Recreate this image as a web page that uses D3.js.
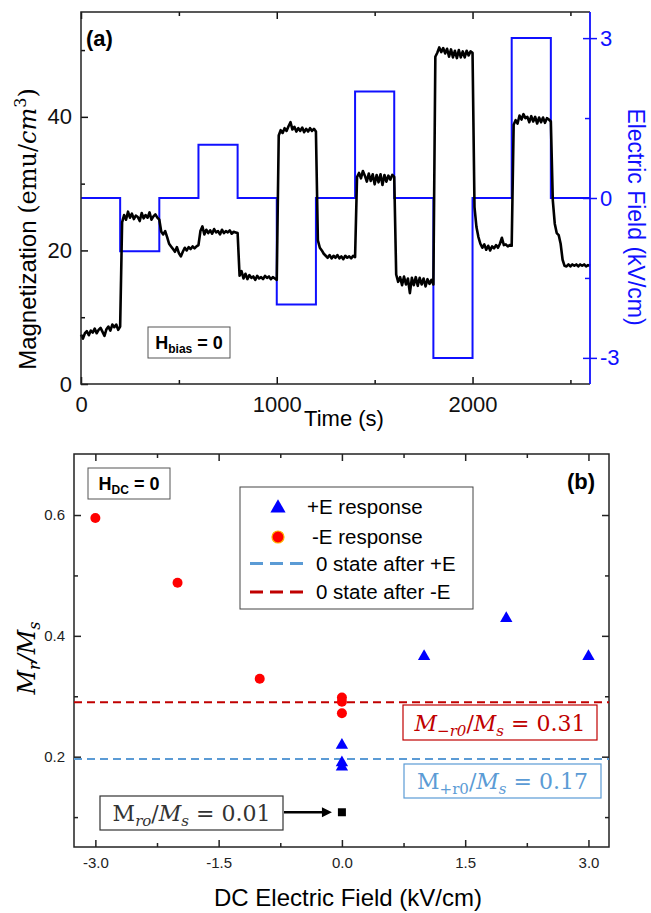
<!DOCTYPE html>
<html>
<head>
<meta charset="utf-8">
<script src="https://cdn.jsdelivr.net/npm/d3@7"></script>
<style>
  body { margin: 0; background: #fff; }
  svg { display: block; }
</style>
</head>
<body>
<script>
// ---- panel (a): magnetization trace, one reading every 10 s (emu/cm^3)
let magnetization = [
  7.4, 6.8, 7.6, 7.9, 7.3, 8.0, 7.7, 8.3, 7.6, 8.1, 8.4, 7.8, 7.2, 8.2, 8.6, 8.0, 8.9, 8.5, 8.9, 8.1,
  8.6, 24.2, 25.3, 24.6, 25.8, 24.9, 25.5, 24.7, 25.2, 25.0, 24.4, 25.6, 24.8, 25.3, 24.9, 25.7, 24.6, 25.1, 25.4, 24.9,
  24.6, 22.8, 22.4, 22.9, 22.0, 21.0, 20.6, 20.2, 19.8, 20.5, 19.6, 19.1, 19.8, 20.4, 20.0, 20.5, 20.2, 20.6, 20.3, 20.6,
  20.8, 22.9, 23.6, 22.4, 23.1, 22.6, 23.0, 22.5, 23.2, 22.7, 22.9, 22.4, 23.1, 22.6, 22.9, 22.7, 23.0, 22.5, 22.8, 22.7,
  22.6, 16.2, 16.9, 15.8, 16.5, 15.7, 16.3, 15.9, 16.1, 15.6, 16.2, 15.8, 16.0, 15.7, 16.2, 15.9, 16.1, 15.7, 16.0, 15.8,
  15.6, 37.2, 38.0, 37.6, 38.3, 37.9, 38.6, 39.2, 38.1, 38.5, 37.8, 38.3, 37.9, 38.4, 37.7, 38.2, 37.8, 38.3, 37.9, 38.2,
  37.8, 21.5, 20.4, 20.0, 19.5, 19.2, 18.9, 19.3, 18.8, 19.2, 18.9, 19.3, 18.8, 19.1, 18.7, 19.2, 18.9, 19.1, 18.8, 19.2,
  19.0, 31.0, 31.6, 30.8, 31.9, 31.2, 30.3, 31.5, 30.4, 31.4, 29.9, 31.3, 30.2, 31.4, 29.8, 31.3, 30.3, 31.2, 30.6, 31.3,
  31.0, 16.4, 15.3, 16.0, 14.8, 16.1, 14.9, 15.8, 13.6, 15.9, 14.8, 16.0, 14.7, 15.9, 14.9, 15.8, 14.6, 15.7, 15.0, 15.6,
  14.9, 49.0, 49.6, 50.4, 49.7, 50.3, 49.5, 50.2, 49.0, 50.1, 48.9, 49.9, 48.8, 50.0, 48.9, 49.8, 48.9, 49.9, 49.2, 49.8,
  49.6, 26.5, 23.5, 22.0, 21.0, 20.4, 20.9, 20.1, 20.7, 20.0, 20.6, 20.3, 20.8, 20.4, 21.0, 21.9, 20.8, 20.9, 20.6, 20.8,
  20.7, 38.8, 39.5, 39.0, 40.2, 39.6, 40.4, 39.8, 40.0, 39.2, 40.1, 39.3, 40.0, 39.0, 39.9, 39.2, 39.9, 39.1, 39.8, 39.6,
  39.3, 27.5, 24.0, 22.6, 22.3, 21.0, 18.6, 17.7, 17.6, 17.9, 17.6, 17.9, 17.7, 17.9, 17.6, 17.9, 17.7, 17.9, 17.6, 17.8,
  17.7
];
let sampleTimes = d3.range(0, 2601, 10);

// applied field, value held from each switch time to the next (kV/cm)
let switchTimes = [0, 200, 400, 600, 800, 1000, 1200, 1400, 1600, 1800, 2000, 2200, 2400, 2600];
let fieldValues = [0, -1, 0, 1, 0, -2, 0, 2, 0, -3, 0, 3, 0, 0];

let timeTicks = [0, 1000, 2000];
let timeMinor = [500, 1500, 2500];
let magTicks = [0, 20, 40];
let magMinor = [10, 30, 50];
let fieldTicks = [-3, 0, 3];
let fieldMinor = [-1.5, 1.5];

// ---- panel (b): remanence ratio vs DC field
let minusField = [-3, -2, -1, 0, 0, 0];
let minusRatio = [0.595, 0.488, 0.329, 0.298, 0.291, 0.272];
let plusField = [1, 2, 3, 0, 0, 0];
let plusRatio = [0.366, 0.429, 0.366, 0.219, 0.190, 0.183];
let initialField = [0];
let initialRatio = [0.108];
let levelAfterPlus = 0.196;
let levelAfterMinus = 0.290;

let dcTicks = [-3, -1.5, 0, 1.5, 3];
let dcMinor = [-2.25, -0.75, 0.75, 2.25];
let ratioTicks = [0.2, 0.4, 0.6];
let ratioMinor = [0.1, 0.3, 0.5];

let w = 651;
let h = 913;
let sans = "'Liberation Sans', Arial, sans-serif";
let serif = "'DejaVu Serif', serif";
let blue = "#1010ff";
let darkRed = "#c00000";
let lightBlue = "#5b9bd5";

let svg = d3.select("body").append("svg").attr("width", w).attr("height", h);

// =================== panel (a) ===================
let a = { left: 81, right: 590, top: 12, bottom: 384 };
let xA = d3.scaleLinear().domain([0, 2600]).range([a.left, a.right]);
let yA = d3.scaleLinear().domain([0, 55.7]).range([a.bottom, a.top]);
let yE = d3.scaleLinear().domain([-3.49, 3.49]).range([a.bottom, a.top]);
let plain = (d) => String(d);

function styleAxis(g, color, size) {
  g.select(".domain").remove();
  g.selectAll("line").attr("stroke", color).attr("stroke-width", 1.5);
  g.selectAll("text")
    .attr("fill", color)
    .attr("font-family", sans)
    .attr("font-size", size + "px");
}

// bottom + top axes
svg.append("g")
  .attr("transform", "translate(0," + a.bottom + ")")
  .call(d3.axisBottom(xA).tickValues(timeTicks).tickSize(-7).tickPadding(12).tickFormat(plain))
  .call((g) => styleAxis(g, "#111", 22));
svg.append("g")
  .attr("transform", "translate(0," + a.bottom + ")")
  .call(d3.axisBottom(xA).tickValues(timeMinor).tickSize(-4).tickFormat(""))
  .call((g) => styleAxis(g, "#111", 22));
svg.append("g")
  .attr("transform", "translate(0," + a.top + ")")
  .call(d3.axisTop(xA).tickValues(timeTicks).tickSize(-7).tickFormat(""))
  .call((g) => styleAxis(g, "#111", 22));
svg.append("g")
  .attr("transform", "translate(0," + a.top + ")")
  .call(d3.axisTop(xA).tickValues(timeMinor).tickSize(-4).tickFormat(""))
  .call((g) => styleAxis(g, "#111", 22));

// left magnetization axis
svg.append("g")
  .attr("transform", "translate(" + a.left + ",0)")
  .call(d3.axisLeft(yA).tickValues(magTicks).tickSize(-7).tickPadding(9).tickFormat(plain))
  .call((g) => styleAxis(g, "#111", 22));
svg.append("g")
  .attr("transform", "translate(" + a.left + ",0)")
  .call(d3.axisLeft(yA).tickValues(magMinor).tickSize(-4).tickFormat(""))
  .call((g) => styleAxis(g, "#111", 22));

// right field axis (blue)
svg.append("g")
  .attr("transform", "translate(" + a.right + ",0)")
  .call(d3.axisRight(yE).tickValues(fieldTicks).tickSize(7).tickPadding(3).tickFormat(plain))
  .call((g) => styleAxis(g, blue, 22));
svg.append("g")
  .attr("transform", "translate(" + a.right + ",0)")
  .call(d3.axisRight(yE).tickValues(fieldTicks).tickSize(-7).tickFormat(""))
  .call((g) => styleAxis(g, blue, 22));
svg.append("g")
  .attr("transform", "translate(" + a.right + ",0)")
  .call(d3.axisRight(yE).tickValues(fieldMinor).tickSize(-5).tickFormat(""))
  .call((g) => styleAxis(g, blue, 22));

// field steps
let fieldLine = d3.line()
  .x((d, i) => xA(switchTimes[i]))
  .y((d) => yE(d))
  .curve(d3.curveStepAfter);
svg.append("path")
  .datum(fieldValues)
  .attr("d", fieldLine)
  .attr("fill", "none")
  .attr("stroke", blue)
  .attr("stroke-width", 2);

// magnetization trace
let magLine = d3.line()
  .x((d, i) => xA(sampleTimes[i]))
  .y((d) => yA(d));
svg.append("path")
  .datum(magnetization)
  .attr("d", magLine)
  .attr("fill", "none")
  .attr("stroke", "#000")
  .attr("stroke-width", 2.6)
  .attr("stroke-linejoin", "round");

// frame
svg.append("path")
  .attr("d", "M" + a.right + "," + a.top + "H" + a.left + "V" + a.bottom + "H" + a.right)
  .attr("fill", "none").attr("stroke", "#222").attr("stroke-width", 1.5);
svg.append("line")
  .attr("x1", a.right).attr("x2", a.right).attr("y1", a.top).attr("y2", a.bottom)
  .attr("stroke", blue).attr("stroke-width", 1.8);

// labels
svg.append("text")
  .attr("x", 86).attr("y", 45.5)
  .attr("font-family", sans).attr("font-size", "22px").attr("font-weight", "bold")
  .text("(a)");

let hb = svg.append("g");
hb.append("rect").attr("x", 148).attr("y", 327).attr("width", 82).attr("height", 31)
  .attr("fill", "#fff").attr("stroke", "#555").attr("stroke-width", 1);
let hbText = hb.append("text").attr("x", 189).attr("y", 349).attr("text-anchor", "middle")
  .attr("font-family", sans).attr("font-weight", "bold").attr("font-size", "18px");
hbText.append("tspan").text("H");
hbText.append("tspan").attr("font-size", "12px").attr("dy", 4).text("bias");
hbText.append("tspan").attr("dy", -4).text(" = 0");

let magTitle = svg.append("text")
  .attr("transform", "translate(36,229) rotate(-90)")
  .attr("text-anchor", "middle")
  .attr("font-family", sans).attr("font-size", "24px");
magTitle.append("tspan").text("Magnetization ");
magTitle.append("tspan").attr("font-family", serif).text("(emu/");
magTitle.append("tspan").attr("font-family", serif).attr("font-style", "italic").text("cm");
magTitle.append("tspan").attr("font-family", serif).attr("font-size", "16px").attr("dy", -10).text("3");
magTitle.append("tspan").attr("font-family", serif).attr("dy", 10).text(")");

svg.append("text")
  .attr("transform", "translate(628,217) rotate(90)")
  .attr("text-anchor", "middle")
  .attr("font-family", sans).attr("font-size", "23px").attr("fill", blue)
  .text("Electric Field (kV/cm)");

svg.append("text")
  .attr("x", 344).attr("y", 426)
  .attr("text-anchor", "middle")
  .attr("font-family", sans).attr("font-size", "22px")
  .text("Time (s)");

// =================== panel (b) ===================
let b = { left: 74, right: 609, top: 454, bottom: 847 };
let xB = d3.scaleLinear().domain([-3.26, 3.25]).range([b.left, b.right]);
let yB = d3.scaleLinear().domain([0.0505, 0.701]).range([b.bottom, b.top]);
let fmt = (d) => d.toFixed(1);

svg.append("g")
  .attr("transform", "translate(0," + b.bottom + ")")
  .call(d3.axisBottom(xB).tickValues(dcTicks).tickSize(-7).tickPadding(10).tickFormat(fmt))
  .call((g) => styleAxis(g, "#222", 15));
svg.append("g")
  .attr("transform", "translate(0," + b.bottom + ")")
  .call(d3.axisBottom(xB).tickValues(dcMinor).tickSize(-4).tickFormat(""))
  .call((g) => styleAxis(g, "#222", 15));
svg.append("g")
  .attr("transform", "translate(0," + b.top + ")")
  .call(d3.axisTop(xB).tickValues(dcTicks).tickSize(-7).tickFormat(""))
  .call((g) => styleAxis(g, "#222", 15));
svg.append("g")
  .attr("transform", "translate(0," + b.top + ")")
  .call(d3.axisTop(xB).tickValues(dcMinor).tickSize(-4).tickFormat(""))
  .call((g) => styleAxis(g, "#222", 15));
svg.append("g")
  .attr("transform", "translate(" + b.left + ",0)")
  .call(d3.axisLeft(yB).tickValues(ratioTicks).tickSize(-7).tickPadding(9).tickFormat(fmt))
  .call((g) => styleAxis(g, "#222", 15));
svg.append("g")
  .attr("transform", "translate(" + b.left + ",0)")
  .call(d3.axisLeft(yB).tickValues(ratioMinor).tickSize(-4).tickFormat(""))
  .call((g) => styleAxis(g, "#222", 15));
svg.append("g")
  .attr("transform", "translate(" + b.right + ",0)")
  .call(d3.axisRight(yB).tickValues(ratioTicks).tickSize(-7).tickFormat(""))
  .call((g) => styleAxis(g, "#222", 15));
svg.append("g")
  .attr("transform", "translate(" + b.right + ",0)")
  .call(d3.axisRight(yB).tickValues(ratioMinor).tickSize(-4).tickFormat(""))
  .call((g) => styleAxis(g, "#222", 15));

svg.append("rect")
  .attr("x", b.left).attr("y", b.top)
  .attr("width", b.right - b.left).attr("height", b.bottom - b.top)
  .attr("fill", "none").attr("stroke", "#222").attr("stroke-width", 1.5);

// zero-field levels
svg.append("line")
  .attr("x1", b.left).attr("x2", b.right)
  .attr("y1", yB(levelAfterMinus)).attr("y2", yB(levelAfterMinus))
  .attr("stroke", darkRed).attr("stroke-width", 2).attr("stroke-dasharray", "8,5");
svg.append("line")
  .attr("x1", b.left).attr("x2", b.right)
  .attr("y1", yB(levelAfterPlus)).attr("y2", yB(levelAfterPlus))
  .attr("stroke", lightBlue).attr("stroke-width", 2).attr("stroke-dasharray", "8,5");

// points
svg.append("g").selectAll("circle")
  .data(minusField)
  .enter()
  .append("circle")
  .attr("cx", (d) => xB(d))
  .attr("cy", (d, i) => yB(minusRatio[i]))
  .attr("r", 5)
  .attr("fill", "#ff0000");

let tri = d3.symbol().type(d3.symbolTriangle).size(66);
svg.append("g").selectAll("path")
  .data(plusField)
  .enter()
  .append("path")
  .attr("d", tri)
  .attr("transform", (d, i) => "translate(" + xB(d) + "," + yB(plusRatio[i]) + ")")
  .attr("fill", "#0000ff");

svg.append("g").selectAll("path")
  .data(initialField)
  .enter()
  .append("path")
  .attr("d", d3.symbol().type(d3.symbolSquare).size(64))
  .attr("transform", (d, i) => "translate(" + xB(d) + "," + yB(initialRatio[i]) + ")")
  .attr("fill", "#000");

// legend
let lg = svg.append("g");
lg.append("rect").attr("x", 240).attr("y", 487).attr("width", 233).attr("height", 122)
  .attr("fill", "#fff").attr("stroke", "#444").attr("stroke-width", 1);
lg.append("path")
  .attr("d", d3.symbol().type(d3.symbolTriangle).size(100))
  .attr("transform", "translate(278,508)")
  .attr("fill", "#0000ff");
lg.append("circle").attr("cx", 278).attr("cy", 537).attr("r", 6)
  .attr("fill", "#ff0000").attr("stroke", "#ffb000").attr("stroke-width", 1.2);
lg.append("line").attr("x1", 250).attr("x2", 304).attr("y1", 563.5).attr("y2", 563.5)
  .attr("stroke", lightBlue).attr("stroke-width", 3).attr("stroke-dasharray", "13,7");
lg.append("line").attr("x1", 250).attr("x2", 304).attr("y1", 592).attr("y2", 592)
  .attr("stroke", darkRed).attr("stroke-width", 3).attr("stroke-dasharray", "13,7");
let legendText = [
  { x: 307, y: 514, t: "+E response" },
  { x: 312, y: 544, t: "-E response" },
  { x: 316, y: 571, t: "0 state after +E" },
  { x: 316, y: 599, t: "0 state after -E" },
];
lg.selectAll("text")
  .data(legendText)
  .enter()
  .append("text")
  .attr("x", (d) => d.x).attr("y", (d) => d.y)
  .attr("font-family", sans).attr("font-size", "20.5px")
  .text((d) => d.t);

// H_DC box and (b)
let hd = svg.append("g");
hd.append("rect").attr("x", 88).attr("y", 468).attr("width", 82).attr("height", 31)
  .attr("fill", "#fff").attr("stroke", "#555").attr("stroke-width", 1);
let hdText = hd.append("text").attr("x", 129).attr("y", 490).attr("text-anchor", "middle")
  .attr("font-family", sans).attr("font-weight", "bold").attr("font-size", "18px");
hdText.append("tspan").text("H");
hdText.append("tspan").attr("font-size", "12px").attr("dy", 4).text("DC");
hdText.append("tspan").attr("dy", -4).text(" = 0");

svg.append("text")
  .attr("x", 595).attr("y", 489).attr("text-anchor", "end")
  .attr("font-family", sans).attr("font-size", "22px").attr("font-weight", "bold")
  .text("(b)");

// ratio annotations
function mathBox(x, y, bw, bh, color, parts) {
  let g = svg.append("g");
  g.append("rect").attr("x", x).attr("y", y).attr("width", bw).attr("height", bh)
    .attr("fill", "#fff").attr("stroke", color).attr("stroke-width", 1.2);
  let t = g.append("text")
    .attr("x", x + bw / 2).attr("y", y + bh - 9)
    .attr("text-anchor", "middle")
    .attr("font-family", serif).attr("font-size", "22px").attr("fill", color);
  parts.forEach((p) => {
    let s = t.append("tspan").text(p.t);
    if (p.i) s.attr("font-style", "italic");
    if (p.sub) s.attr("font-size", "15px");
    if (p.dy) s.attr("dy", p.dy);
  });
}
mathBox(100, 796, 183, 34, "#333", [
  { t: "M" }, { t: "ro", i: 1, sub: 1, dy: 5 }, { t: "/", dy: -5 },
  { t: "M", i: 1 }, { t: "s", i: 1, sub: 1, dy: 5 }, { t: " = 0.01", dy: -5 },
]);
mathBox(403, 705, 194, 35, darkRed, [
  { t: "M", i: 1 }, { t: "\u2212r0", i: 1, sub: 1, dy: 5 }, { t: "/", dy: -5 },
  { t: "M", i: 1 }, { t: "s", i: 1, sub: 1, dy: 5 }, { t: " = 0.31", dy: -5 },
]);
mathBox(404, 764, 197, 34, lightBlue, [
  { t: "M" }, { t: "+r0", sub: 1, dy: 5 }, { t: "/", dy: -5 },
  { t: "M", i: 1 }, { t: "s", i: 1, sub: 1, dy: 5 }, { t: " = 0.17", dy: -5 },
]);

// arrow to the initial state
let ay = yB(initialRatio[0]);
let ax = xB(initialField[0]) - 10;
svg.append("line").attr("x1", 284).attr("x2", ax - 8).attr("y1", ay).attr("y2", ay)
  .attr("stroke", "#000").attr("stroke-width", 2.5);
svg.append("path")
  .attr("d", "M" + (ax - 10) + "," + (ay - 5) + "L" + ax + "," + ay + "L" + (ax - 10) + "," + (ay + 5) + "Z")
  .attr("fill", "#000");

// axis titles
let ratioTitle = svg.append("text")
  .attr("transform", "translate(35,658) rotate(-90)")
  .attr("text-anchor", "middle")
  .attr("font-family", serif).attr("font-size", "24px").attr("font-style", "italic");
ratioTitle.append("tspan").text("M");
ratioTitle.append("tspan").attr("font-size", "16px").attr("dy", 5).text("r");
ratioTitle.append("tspan").attr("dy", -5).text("/M");
ratioTitle.append("tspan").attr("font-size", "16px").attr("dy", 5).text("s");

svg.append("text")
  .attr("x", 348).attr("y", 906)
  .attr("text-anchor", "middle")
  .attr("font-family", sans).attr("font-size", "24px")
  .text("DC Electric Field (kV/cm)");
</script>
</body>
</html>
